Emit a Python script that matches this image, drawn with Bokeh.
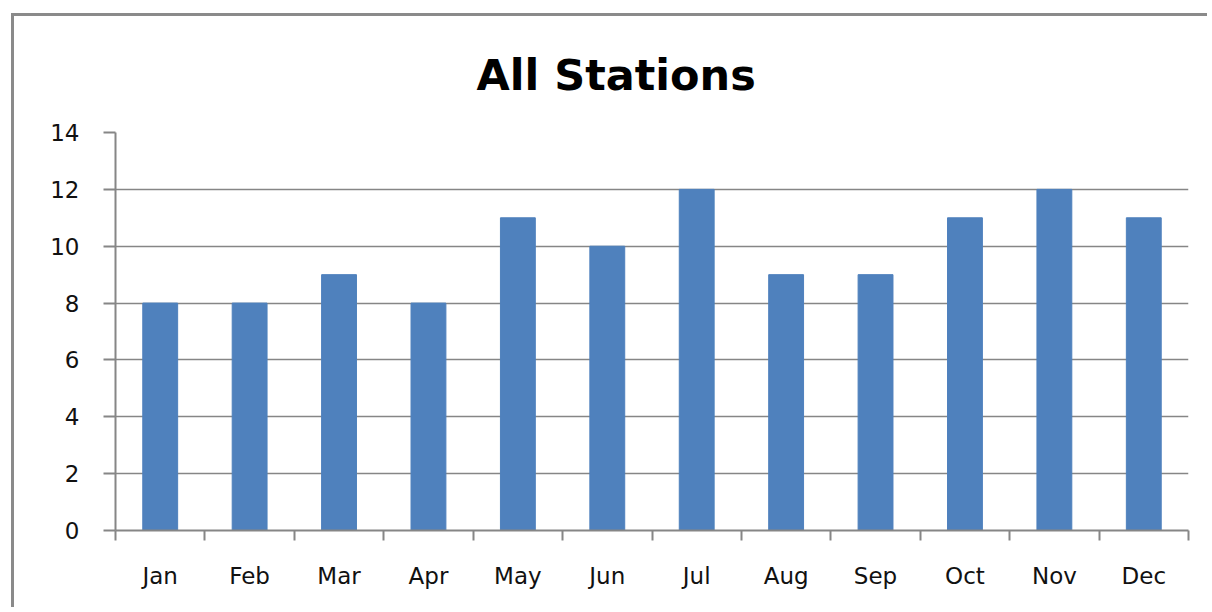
from bokeh.plotting import figure
from bokeh.models import FixedTicker
from bokeh.embed import file_html
from bokeh.resources import INLINE

months = ["Jan", "Feb", "Mar", "Apr", "May", "Jun", "Jul", "Aug", "Sep", "Oct", "Nov", "Dec"]
counts = [8, 8, 9, 8, 11, 10, 12, 9, 9, 11, 12, 11]
y_ticks = [0, 2, 4, 6, 8, 10, 12, 14]

xc = [i + 0.5 for i in range(len(months))]
bounds = list(range(len(months) + 1))

AX = "#868686"
FONT = "DejaVu Sans"

p = figure(width=1196, height=594, output_backend="svg", toolbar_location=None,
           x_range=(0, len(months)), y_range=(0, 14),
           min_border_left=101, min_border_right=22, min_border_top=116, min_border_bottom=80,
           styles={"margin-left": "11px", "margin-top": "13px",
                   "border-left": "3px solid #8a8a8a", "border-top": "3px solid #8a8a8a"})
p.outline_line_color = None
p.background_fill_color = "white"
p.border_fill_color = "white"

p.vbar(x=xc, top=counts, width=0.39, color="#4F81BD")

p.title.text = "All Stations"
p.title.text_font = FONT
p.title.text_font_size = "43px"
p.title.text_font_style = "bold"
p.title.text_color = "black"
p.title.align = "left"
p.title.vertical_align = "top"
p.title.offset = 361
p.title.standoff = 62

# x axis
p.xaxis.ticker = FixedTicker(ticks=xc, minor_ticks=bounds)
p.xaxis.major_label_overrides = {x: m for x, m in zip(xc, months)}
p.xaxis.major_tick_out = 0
p.xaxis.major_tick_in = 0
p.xaxis.minor_tick_out = 10
p.xaxis.minor_tick_in = 0
p.xaxis.minor_tick_line_color = AX
p.xaxis.minor_tick_line_width = 2
p.xaxis.axis_line_color = AX
p.xaxis.axis_line_width = 2
p.xaxis.major_label_text_font = FONT
p.xaxis.major_label_text_font_size = "23px"
p.xaxis.major_label_text_color = "#111111"
p.xaxis.major_label_standoff = 22

# y axis
p.yaxis.ticker = FixedTicker(ticks=y_ticks)
p.yaxis.major_tick_out = 12
p.yaxis.major_tick_in = 0
p.yaxis.minor_tick_line_color = None
p.yaxis.major_tick_line_color = AX
p.yaxis.major_tick_line_width = 2
p.yaxis.axis_line_color = AX
p.yaxis.axis_line_width = 2
p.yaxis.major_label_text_font = FONT
p.yaxis.major_label_text_font_size = "23px"
p.yaxis.major_label_text_color = "#111111"
p.yaxis.major_label_standoff = 24

p.xgrid.grid_line_color = None
p.ygrid.ticker = FixedTicker(ticks=y_ticks)
p.ygrid.grid_line_color = AX
p.ygrid.grid_line_width = 1.5

open("out.html", "w").write(file_html(p, INLINE))
